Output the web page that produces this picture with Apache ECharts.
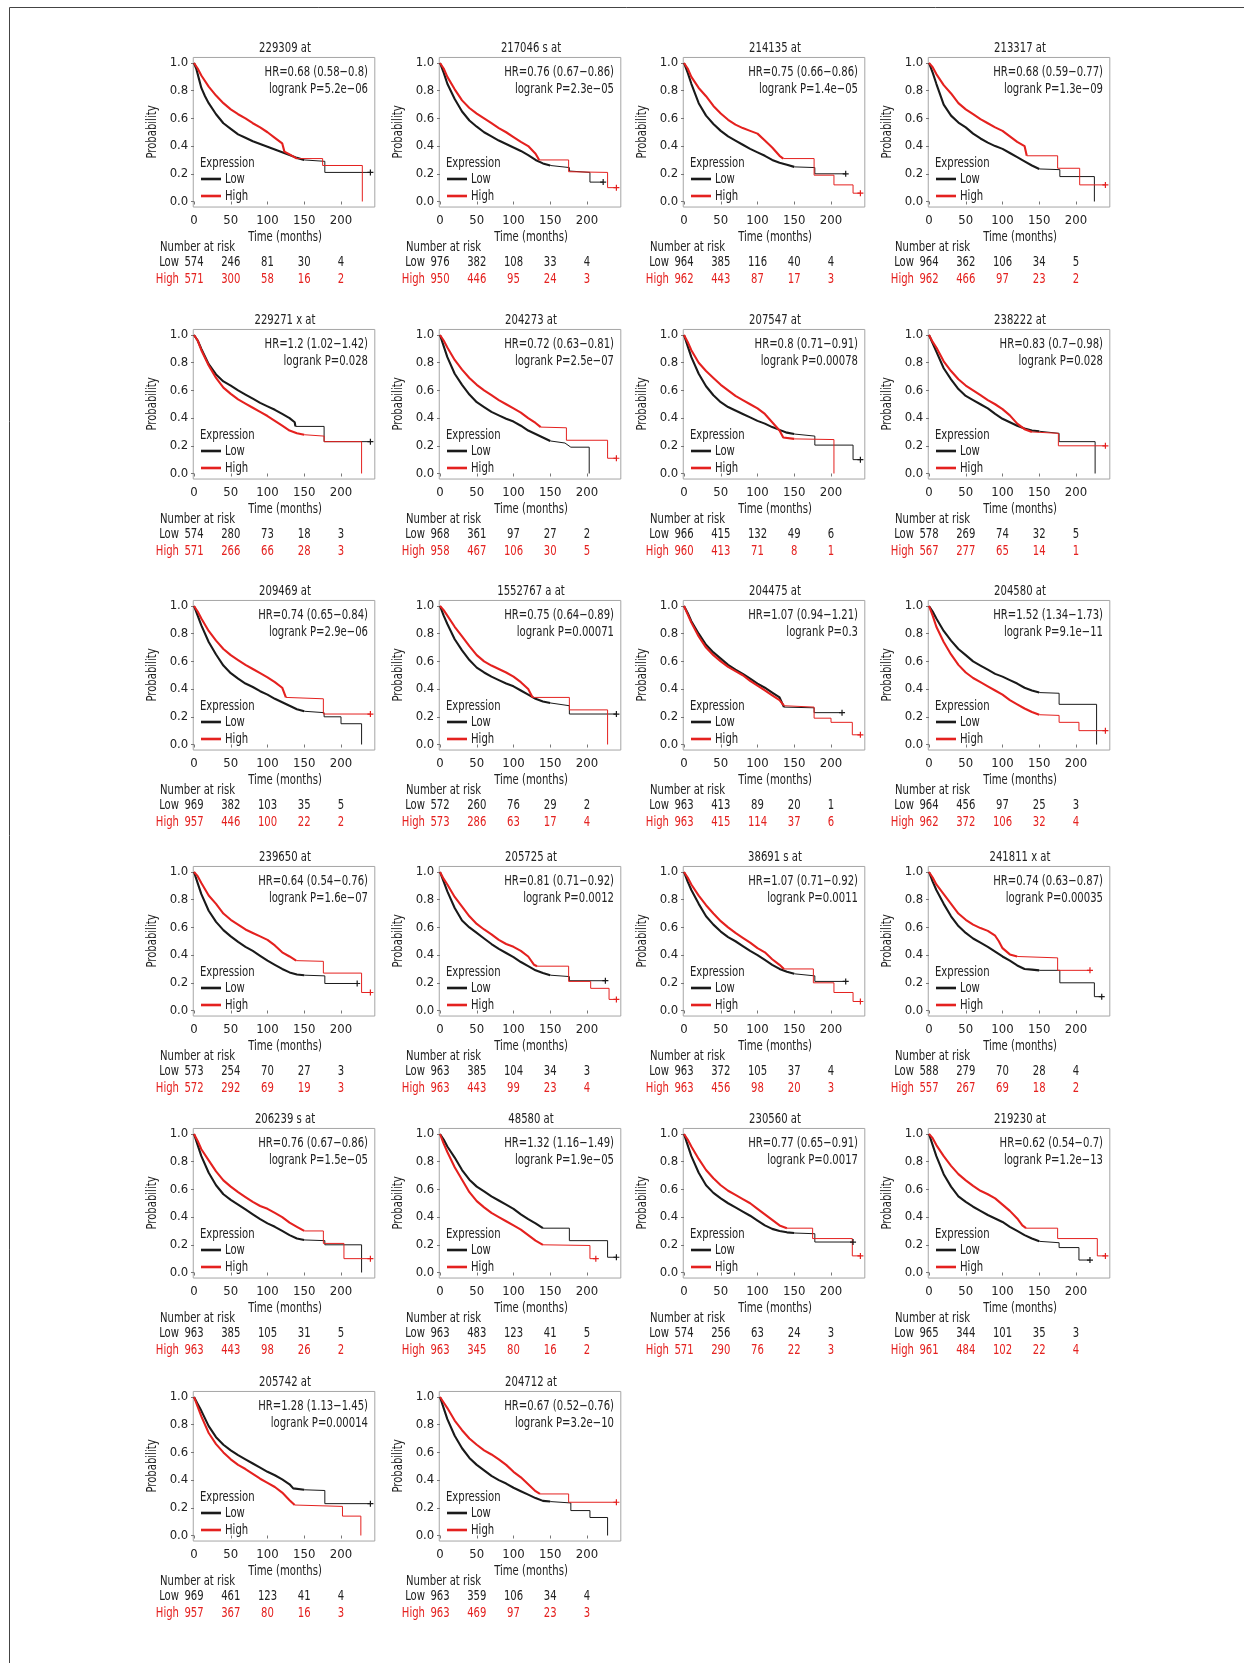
<!DOCTYPE html>
<html>
<head>
<meta charset="utf-8">
<title>KM curves</title>
<script src="https://cdn.jsdelivr.net/npm/echarts@6/dist/echarts.min.js"></script>
<style>
  html, body { margin: 0; padding: 0; background: #fff; }
  #chart { width: 1244px; height: 1663px; }
</style>
</head>
<body>
<div id="chart"></div>
<script>
// probe titles, read left to right, top to bottom
var titles = ['229309 at', '217046 s at', '214135 at', '213317 at',
  '229271 x at', '204273 at', '207547 at', '238222 at',
  '209469 at', '1552767 a at', '204475 at', '204580 at',
  '239650 at', '205725 at', '38691 s at', '241811 x at',
  '206239 s at', '48580 at', '230560 at', '219230 at',
  '205742 at', '204712 at']

var hrTexts = ['HR=0.68 (0.58−0.8)', 'HR=0.76 (0.67−0.86)', 'HR=0.75 (0.66−0.86)', 'HR=0.68 (0.59−0.77)',
  'HR=1.2 (1.02−1.42)', 'HR=0.72 (0.63−0.81)', 'HR=0.8 (0.71−0.91)', 'HR=0.83 (0.7−0.98)',
  'HR=0.74 (0.65−0.84)', 'HR=0.75 (0.64−0.89)', 'HR=1.07 (0.94−1.21)', 'HR=1.52 (1.34−1.73)',
  'HR=0.64 (0.54−0.76)', 'HR=0.81 (0.71−0.92)', 'HR=1.07 (0.71−0.92)', 'HR=0.74 (0.63−0.87)',
  'HR=0.76 (0.67−0.86)', 'HR=1.32 (1.16−1.49)', 'HR=0.77 (0.65−0.91)', 'HR=0.62 (0.54−0.7)',
  'HR=1.28 (1.13−1.45)', 'HR=0.67 (0.52−0.76)']

var pTexts = ['logrank P=5.2e−06', 'logrank P=2.3e−05', 'logrank P=1.4e−05', 'logrank P=1.3e−09',
  'logrank P=0.028', 'logrank P=2.5e−07', 'logrank P=0.00078', 'logrank P=0.028',
  'logrank P=2.9e−06', 'logrank P=0.00071', 'logrank P=0.3', 'logrank P=9.1e−11',
  'logrank P=1.6e−07', 'logrank P=0.0012', 'logrank P=0.0011', 'logrank P=0.00035',
  'logrank P=1.5e−05', 'logrank P=1.9e−05', 'logrank P=0.0017', 'logrank P=1.2e−13',
  'logrank P=0.00014', 'logrank P=3.2e−10']

var timeTicks = [0, 50, 100, 150, 200]
var probTicks = [0, 0.2, 0.4, 0.6, 0.8, 1.0]

// [months, survival], one array per panel
var lowCurves = [
  [[0,1],[3,.96],[7,.88],[10,.82],[15,.76],[20,.71],[30,.63],[40,.565],[50,.525],[60,.485],[70,.46],[80,.435],[90,.415],[100,.395],[110,.375],[120,.355],[130,.335],[140,.315],[150,.30],[178,.29],[178,.21],[240,.21]],
  [[0,1],[5,.93],[10,.85],[20,.74],[30,.65],[40,.585],[50,.54],[60,.50],[70,.47],[80,.44],[90,.415],[100,.39],[110,.365],[120,.335],[130,.30],[140,.275],[150,.26],[176,.245],[176,.22],[204,.21],[204,.14],[222,.14]],
  [[0,1],[5,.93],[10,.85],[20,.71],[30,.62],[40,.56],[50,.51],[60,.47],[70,.44],[80,.41],[90,.38],[100,.355],[110,.33],[120,.30],[130,.28],[140,.265],[150,.25],[178,.245],[178,.20],[220,.20]],
  [[0,1],[5,.93],[10,.85],[20,.70],[30,.62],[40,.57],[50,.535],[60,.49],[70,.455],[80,.425],[90,.40],[100,.38],[110,.35],[120,.32],[130,.29],[140,.26],[150,.235],[178,.23],[178,.18],[225,.18],[225,0]],
  [[0,1],[5,.96],[10,.90],[20,.79],[30,.715],[40,.665],[50,.635],[60,.60],[70,.57],[80,.54],[90,.51],[100,.485],[110,.46],[120,.43],[130,.40],[137,.37],[138,.34],[177,.34],[177,.23],[240,.23]],
  [[0,1],[5,.92],[10,.84],[20,.72],[30,.64],[40,.57],[50,.515],[60,.48],[70,.445],[80,.42],[90,.395],[100,.375],[110,.345],[120,.31],[130,.285],[140,.26],[150,.235],[170,.22],[178,.19],[203,.19],[203,0]],
  [[0,1],[5,.92],[10,.84],[20,.72],[30,.63],[40,.565],[50,.515],[60,.48],[70,.455],[80,.43],[90,.405],[100,.38],[110,.36],[120,.335],[130,.315],[140,.295],[150,.285],[178,.27],[178,.205],[230,.205],[230,.10],[240,.10]],
  [[0,1],[5,.94],[10,.88],[20,.76],[30,.68],[40,.61],[50,.56],[60,.53],[70,.50],[80,.47],[90,.43],[100,.395],[110,.37],[120,.345],[130,.325],[140,.31],[150,.305],[177,.29],[177,.23],[226,.23],[226,0]],
  [[0,1],[5,.93],[10,.86],[20,.74],[30,.65],[40,.57],[50,.515],[60,.475],[70,.44],[80,.415],[90,.385],[100,.36],[110,.33],[120,.305],[130,.28],[140,.255],[150,.24],[177,.23],[177,.20],[200,.20],[200,.15],[228,.15],[228,0]],
  [[0,1],[5,.93],[10,.87],[20,.76],[30,.68],[40,.61],[50,.555],[60,.52],[70,.49],[80,.465],[90,.44],[100,.42],[110,.39],[120,.36],[130,.33],[140,.31],[150,.30],[176,.28],[176,.22],[240,.22]],
  [[0,1],[5,.95],[10,.89],[20,.80],[30,.72],[40,.665],[50,.62],[60,.575],[70,.54],[80,.51],[90,.475],[100,.44],[110,.41],[120,.375],[130,.34],[136,.27],[177,.265],[177,.23],[215,.23]],
  [[0,1],[5,.96],[10,.91],[20,.82],[30,.75],[40,.69],[50,.645],[60,.60],[70,.57],[80,.54],[90,.51],[100,.49],[110,.465],[120,.44],[130,.41],[140,.39],[150,.375],[177,.37],[177,.29],[228,.29],[228,0]],
  [[0,1],[5,.92],[10,.84],[20,.72],[30,.64],[40,.58],[50,.535],[60,.495],[70,.46],[80,.43],[90,.395],[100,.36],[110,.33],[120,.30],[130,.275],[140,.26],[150,.255],[178,.25],[178,.195],[222,.195]],
  [[0,1],[5,.93],[10,.86],[20,.74],[30,.65],[40,.60],[50,.56],[60,.52],[70,.48],[80,.445],[90,.415],[100,.385],[110,.35],[120,.32],[130,.29],[140,.27],[150,.255],[176,.245],[176,.215],[225,.215]],
  [[0,1],[5,.93],[10,.87],[20,.77],[30,.68],[40,.62],[50,.57],[60,.53],[70,.50],[80,.465],[90,.43],[100,.40],[110,.365],[120,.33],[130,.30],[140,.28],[150,.265],[178,.25],[178,.21],[220,.21]],
  [[0,1],[5,.93],[10,.87],[20,.77],[30,.68],[40,.61],[50,.56],[60,.52],[70,.49],[80,.46],[90,.425],[100,.39],[110,.36],[120,.325],[130,.30],[140,.295],[150,.29],[178,.29],[178,.20],[225,.20],[225,.10],[235,.10]],
  [[0,1],[5,.92],[10,.84],[20,.72],[30,.63],[40,.565],[50,.525],[60,.49],[70,.455],[80,.42],[90,.385],[100,.355],[110,.33],[120,.30],[130,.27],[140,.245],[150,.235],[178,.23],[178,.20],[228,.20],[228,0]],
  [[0,1],[5,.96],[10,.91],[20,.83],[30,.74],[40,.67],[50,.62],[60,.585],[70,.55],[80,.52],[90,.49],[100,.46],[110,.42],[120,.385],[130,.355],[140,.32],[176,.32],[176,.23],[228,.23],[228,.11],[240,.11]],
  [[0,1],[5,.92],[10,.84],[20,.72],[30,.63],[40,.575],[50,.535],[60,.50],[70,.47],[80,.44],[90,.41],[100,.375],[110,.34],[120,.315],[130,.30],[140,.29],[150,.285],[178,.28],[178,.22],[230,.22]],
  [[0,1],[5,.92],[10,.84],[20,.71],[30,.62],[40,.55],[50,.51],[60,.475],[70,.445],[80,.415],[90,.39],[100,.365],[110,.33],[120,.30],[130,.27],[140,.245],[150,.225],[177,.215],[177,.18],[204,.18],[204,.09],[219,.09]],
  [[0,1],[5,.95],[10,.90],[20,.79],[30,.71],[40,.655],[50,.615],[60,.58],[70,.55],[80,.52],[90,.49],[100,.46],[110,.435],[120,.405],[130,.37],[135,.34],[150,.33],[178,.325],[178,.23],[240,.23]],
  [[0,1],[5,.92],[10,.84],[20,.72],[30,.63],[40,.56],[50,.51],[60,.47],[70,.43],[80,.40],[90,.375],[100,.345],[110,.32],[120,.295],[130,.27],[140,.25],[150,.245],[178,.235],[178,.18],[204,.18],[204,.13],[228,.13],[228,0]]
]

var highCurves = [
  [[0,1],[5,.96],[10,.91],[20,.83],[30,.765],[40,.71],[50,.665],[60,.63],[70,.60],[80,.565],[90,.535],[100,.50],[110,.46],[120,.42],[123,.36],[130,.34],[140,.31],[175,.31],[175,.26],[229,.26],[229,0]],
  [[0,1],[5,.96],[10,.90],[20,.81],[30,.73],[40,.675],[50,.635],[60,.60],[70,.565],[80,.53],[90,.50],[100,.465],[110,.43],[120,.40],[130,.345],[135,.30],[175,.30],[175,.215],[228,.21],[228,.10],[240,.10]],
  [[0,1],[5,.96],[10,.90],[20,.82],[30,.76],[40,.69],[50,.635],[60,.59],[70,.555],[80,.53],[90,.51],[100,.49],[110,.44],[120,.39],[130,.33],[135,.31],[177,.31],[177,.19],[204,.19],[204,.12],[230,.12],[230,.06],[240,.06]],
  [[0,1],[5,.97],[10,.92],[20,.84],[30,.78],[40,.71],[50,.665],[60,.63],[70,.595],[80,.565],[90,.535],[100,.51],[110,.47],[120,.43],[130,.40],[133,.33],[175,.33],[175,.24],[205,.24],[205,.12],[240,.12]],
  [[0,1],[5,.96],[10,.89],[20,.78],[30,.69],[40,.62],[50,.575],[60,.535],[70,.505],[80,.475],[90,.445],[100,.415],[110,.38],[120,.345],[130,.31],[140,.29],[150,.28],[177,.27],[177,.23],[228,.23],[228,0]],
  [[0,1],[5,.96],[10,.91],[20,.82],[30,.75],[40,.69],[50,.64],[60,.60],[70,.565],[80,.53],[90,.50],[100,.47],[110,.44],[120,.40],[130,.365],[137,.335],[172,.33],[172,.24],[228,.24],[228,.11],[240,.11]],
  [[0,1],[5,.95],[10,.89],[20,.80],[30,.74],[40,.69],[50,.64],[60,.60],[70,.56],[80,.53],[90,.50],[100,.47],[110,.43],[120,.37],[130,.31],[135,.26],[150,.25],[204,.245],[204,0]],
  [[0,1],[5,.95],[10,.91],[20,.81],[30,.74],[40,.68],[50,.635],[60,.60],[70,.565],[80,.53],[90,.50],[100,.465],[110,.42],[120,.36],[130,.32],[140,.30],[176,.29],[176,.20],[240,.20]],
  [[0,1],[5,.96],[10,.91],[20,.82],[30,.75],[40,.69],[50,.645],[60,.61],[70,.575],[80,.545],[90,.515],[100,.485],[110,.45],[120,.41],[125,.34],[176,.33],[176,.22],[240,.22]],
  [[0,1],[5,.97],[10,.93],[20,.85],[30,.78],[40,.71],[50,.645],[60,.60],[70,.57],[80,.545],[90,.52],[100,.49],[110,.45],[120,.40],[126,.34],[176,.34],[176,.25],[228,.25],[228,0]],
  [[0,1],[5,.94],[10,.88],[20,.78],[30,.70],[40,.645],[50,.60],[60,.56],[70,.53],[80,.50],[90,.46],[100,.425],[110,.39],[120,.355],[130,.32],[136,.28],[177,.27],[177,.19],[200,.19],[200,.16],[229,.16],[229,.07],[240,.07]],
  [[0,1],[5,.93],[10,.85],[20,.74],[30,.65],[40,.575],[50,.52],[60,.48],[70,.45],[80,.42],[90,.39],[100,.36],[110,.32],[120,.29],[130,.26],[140,.235],[150,.215],[177,.21],[177,.16],[204,.16],[204,.10],[240,.10]],
  [[0,1],[5,.97],[10,.92],[20,.83],[30,.77],[40,.70],[50,.655],[60,.62],[70,.585],[80,.56],[90,.535],[100,.51],[110,.47],[120,.42],[130,.39],[139,.36],[176,.355],[176,.27],[228,.27],[228,.13],[240,.13]],
  [[0,1],[5,.95],[10,.91],[20,.82],[30,.75],[40,.68],[50,.625],[60,.585],[70,.55],[80,.51],[90,.48],[100,.46],[110,.43],[120,.39],[128,.33],[132,.32],[175,.32],[175,.21],[205,.21],[205,.16],[230,.16],[230,.08],[240,.08]],
  [[0,1],[5,.96],[10,.91],[20,.83],[30,.76],[40,.70],[50,.645],[60,.60],[70,.56],[80,.525],[90,.49],[100,.45],[110,.42],[120,.37],[130,.33],[136,.30],[176,.30],[176,.20],[204,.20],[204,.13],[230,.13],[230,.065],[240,.065]],
  [[0,1],[5,.96],[10,.91],[20,.84],[30,.77],[40,.70],[50,.655],[60,.62],[70,.595],[80,.575],[90,.54],[95,.50],[100,.45],[110,.405],[120,.39],[175,.38],[175,.29],[219,.29]],
  [[0,1],[5,.95],[10,.89],[20,.81],[30,.73],[40,.665],[50,.62],[60,.58],[70,.545],[80,.51],[90,.48],[100,.46],[110,.43],[120,.40],[130,.36],[140,.33],[150,.30],[176,.30],[176,.21],[204,.21],[204,.10],[240,.10]],
  [[0,1],[5,.93],[10,.87],[20,.76],[30,.67],[40,.58],[50,.515],[60,.47],[70,.43],[80,.40],[90,.37],[100,.34],[110,.31],[120,.27],[130,.23],[140,.20],[204,.195],[204,.10],[212,.10]],
  [[0,1],[5,.96],[10,.91],[20,.82],[30,.74],[40,.68],[50,.63],[60,.59],[70,.56],[80,.53],[90,.50],[100,.46],[110,.42],[120,.38],[130,.34],[140,.32],[175,.32],[175,.245],[229,.245],[229,.12],[240,.12]],
  [[0,1],[5,.97],[10,.92],[20,.84],[30,.77],[40,.71],[50,.665],[60,.625],[70,.59],[80,.565],[90,.535],[100,.49],[110,.445],[120,.39],[127,.34],[132,.32],[175,.32],[175,.245],[229,.245],[229,.12],[240,.12]],
  [[0,1],[5,.93],[10,.86],[20,.74],[30,.66],[40,.60],[50,.55],[60,.51],[70,.48],[80,.445],[90,.41],[100,.38],[110,.35],[120,.31],[130,.255],[137,.22],[202,.21],[202,.14],[227,.14],[227,0]],
  [[0,1],[5,.96],[10,.92],[20,.83],[30,.76],[40,.70],[50,.655],[60,.615],[70,.585],[80,.55],[90,.51],[100,.46],[110,.42],[120,.37],[130,.32],[136,.30],[175,.30],[175,.24],[240,.24]]
]

// number at risk at 0, 50, 100, 150, 200 months
var riskLow = [[574,246,81,30,4],[976,382,108,33,4],[964,385,116,40,4],[964,362,106,34,5],
  [574,280,73,18,3],[968,361,97,27,2],[966,415,132,49,6],[578,269,74,32,5],
  [969,382,103,35,5],[572,260,76,29,2],[963,413,89,20,1],[964,456,97,25,3],
  [573,254,70,27,3],[963,385,104,34,3],[963,372,105,37,4],[588,279,70,28,4],
  [963,385,105,31,5],[963,483,123,41,5],[574,256,63,24,3],[965,344,101,35,3],
  [969,461,123,41,4],[963,359,106,34,4]]
var riskHigh = [[571,300,58,16,2],[950,446,95,24,3],[962,443,87,17,3],[962,466,97,23,2],
  [571,266,66,28,3],[958,467,106,30,5],[960,413,71,8,1],[567,277,65,14,1],
  [957,446,100,22,2],[573,286,63,17,4],[963,415,114,37,6],[962,372,106,32,4],
  [572,292,69,19,3],[963,443,99,23,4],[963,456,98,20,3],[557,267,69,18,2],
  [963,443,98,26,2],[963,345,80,16,2],[571,290,76,22,3],[961,484,102,22,4],
  [957,367,80,16,3],[963,469,97,23,3]]

// layout: x of month 0 per column, y of probability 1.0 per row
var colX = [194, 440, 684, 929]
var rowY = [63, 335, 606, 872, 1134, 1397]
var pxMonth = 0.735
var pxUnit = 138.5
var FONT = "'DejaVu Sans Condensed', 'Liberation Sans Narrow', sans-serif"
var RED = '#e4211f'
var BLACK = '#1a1a1a'
var TXT = '#222'
var PLUS = 'path://M4,0h2v10h-2zM0,4h10v2h-10z'

// the source uses a condensed face, so texts are squeezed horizontally
function txt (s, x, y, opt) {
  opt = opt || {}
  return {
    type: 'text',
    silent: true,
    x: x,
    y: y,
    rotation: opt.rotation || 0,
    scaleX: 0.8,
    z: 10,
    style: {
      text: s,
      x: 0,
      y: 0,
      fill: opt.color || TXT,
      font: (opt.size || 14) + 'px ' + FONT,
      align: opt.align || 'left',
      verticalAlign: 'middle'
    }
  }
}

// dense early part drawn heavier (censor marks pile up there), sparse tail thin
function splitCurve (pts, cut) {
  var k = 0
  while (k < pts.length - 1 && pts[k + 1][0] <= cut) k++
  return [pts.slice(0, k + 1), pts.slice(k)]
}

function curveSeries (i, pts, color) {
  var parts = splitCurve(pts, 150)
  var tail = parts[1]
  return [{
    type: 'line',
    xAxisIndex: i,
    yAxisIndex: i,
    data: parts[0],
    symbol: 'none',
    silent: true,
    lineStyle: { color: color, width: 2.1 }
  }, {
    type: 'line',
    xAxisIndex: i,
    yAxisIndex: i,
    data: tail,
    symbol: PLUS,
    showAllSymbol: true,
    symbolSize: function (v, p) {
      return (p.dataIndex === tail.length - 1 && v[1] > 0) ? 6 : 0
    },
    silent: true,
    itemStyle: { color: color },
    lineStyle: { color: color, width: 1 }
  }]
}

var grids = []
var xAxes = []
var yAxes = []
var series = []
var graphics = [
  { type: 'line', silent: true, shape: { x1: 9.5, y1: 7.5, x2: 1244, y2: 7.5 }, style: { stroke: '#444', lineWidth: 1 } },
  { type: 'line', silent: true, shape: { x1: 9.5, y1: 7.5, x2: 9.5, y2: 1663 }, style: { stroke: '#444', lineWidth: 1 } }
]

titles.forEach(function (title, i) {
  var x0 = colX[i % 4]
  var y1 = rowY[Math.floor(i / 4)]

  grids.push({
    left: x0 - pxMonth,
    top: y1 - 0.04 * pxUnit,
    width: 247 * pxMonth,
    height: 1.08 * pxUnit,
    show: true,
    borderColor: '#a6a6a6',
    borderWidth: 1,
    containLabel: false
  })
  xAxes.push({
    type: 'value',
    gridIndex: i,
    min: -1,
    max: 246,
    axisLine: { show: false },
    splitLine: { show: false },
    axisTick: { show: true, length: 3, customValues: timeTicks, lineStyle: { color: '#777' } },
    axisLabel: { customValues: timeTicks, margin: 7, fontSize: 13, fontFamily: FONT, color: TXT }
  })
  yAxes.push({
    type: 'value',
    gridIndex: i,
    min: -0.04,
    max: 1.04,
    axisLine: { show: false },
    splitLine: { show: false },
    axisTick: { show: true, length: 3, customValues: probTicks, lineStyle: { color: '#777' } },
    axisLabel: {
      customValues: probTicks,
      margin: 5,
      fontSize: 13,
      fontFamily: FONT,
      color: TXT,
      formatter: function (v) { return v.toFixed(1) }
    }
  })
  series = series.concat(curveSeries(i, lowCurves[i], BLACK), curveSeries(i, highCurves[i], RED))

  graphics.push(txt(title, x0 + 91, y1 - 15, { align: 'center' }))
  graphics.push(txt(hrTexts[i], x0 + 174, y1 + 9, { align: 'right' }))
  graphics.push(txt(pTexts[i], x0 + 174, y1 + 26, { align: 'right' }))
  graphics.push(txt('Probability', x0 - 42, y1 + 69, { align: 'center', rotation: Math.PI / 2 }))
  graphics.push(txt('Time (months)', x0 + 91, y1 + 174, { align: 'center' }))

  graphics.push(txt('Expression', x0 + 6, y1 + 100))
  graphics.push({ type: 'line', silent: true, z: 10, shape: { x1: x0 + 7, y1: y1 + 116, x2: x0 + 27, y2: y1 + 116 }, style: { stroke: BLACK, lineWidth: 2.6 } })
  graphics.push(txt('Low', x0 + 31, y1 + 116))
  graphics.push({ type: 'line', silent: true, z: 10, shape: { x1: x0 + 7, y1: y1 + 133, x2: x0 + 27, y2: y1 + 133 }, style: { stroke: RED, lineWidth: 2.6 } })
  graphics.push(txt('High', x0 + 31, y1 + 133))

  graphics.push(txt('Number at risk', x0 - 34, y1 + 184))
  graphics.push(txt('Low', x0 - 15, y1 + 199, { align: 'right' }))
  graphics.push(txt('High', x0 - 15, y1 + 216, { align: 'right', color: RED }))
  timeTicks.forEach(function (t, k) {
    graphics.push(txt(String(riskLow[i][k]), x0 + t * pxMonth, y1 + 199, { align: 'center' }))
    graphics.push(txt(String(riskHigh[i][k]), x0 + t * pxMonth, y1 + 216, { align: 'center', color: RED }))
  })
})

var chart = echarts.init(document.getElementById('chart'), null, { renderer: 'canvas' })
chart.setOption({
  animation: false,
  backgroundColor: '#fff',
  grid: grids,
  xAxis: xAxes,
  yAxis: yAxes,
  series: series,
  graphic: graphics
})
</script>
</body>
</html>
